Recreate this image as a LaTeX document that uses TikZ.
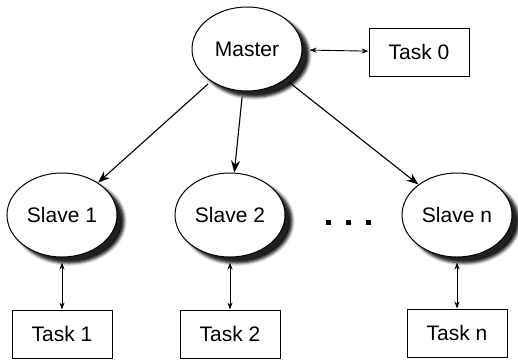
\documentclass[tikz,border=0pt]{standalone}
\usepackage{fontspec}
\setmainfont{Liberation Sans}
\usetikzlibrary{shapes.geometric,arrows.meta,shadows,shadows.blur}

\tikzset{
  nodo/.style={ellipse, draw, line width=1pt, fill=white, minimum width=110pt,
    minimum height=84pt, inner sep=0pt, font=\fontsize{21}{24}\selectfont,
    blur shadow={shadow xshift=7pt, shadow yshift=-6pt, shadow blur steps=5,
      shadow blur radius=3pt, shadow opacity=100},
    drop shadow={shadow xshift=4.5pt, shadow yshift=-4pt, fill=black!75}},
  compito/.style={draw, line width=0.9pt, minimum width=100pt, minimum height=48pt,
    inner sep=0pt, font=\fontsize{21}{24}\selectfont},
  freccia/.style={-{Stealth[length=12pt,width=9pt]}, line width=1.1pt},
  doppia/.style={{Stealth[length=7pt,width=5pt]}-{Stealth[length=7pt,width=5pt]}, line width=0.9pt},
}

\begin{document}
\begin{tikzpicture}[x=1pt,y=-1pt]
  \useasboundingbox (0,0) rectangle (518,360);

  % Master e task 0
  \node[nodo] (master) at (247,49) {Master};
  \node[compito] (task0) at (419,52) {Task 0};

  % Slave e task
  \node[nodo] (slave1) at (62,215) {Slave 1};
  \node[nodo] (slave2) at (230,215) {Slave 2};
  \node[nodo] (slaven) at (457,215) {Slave n};
  \node[compito] (task1) at (62,334) {Task 1};
  \node[compito] (task2) at (230,334) {Task 2};
  \node[compito] (taskn) at (457,333) {Task n};

  % Puntini
  \foreach \x in {328,348,368}
    \fill (\x-2.5,219.5) rectangle (\x+2.5,224.5);

  % Collegamenti
  \draw[freccia, shorten <=4pt] (master) -- (slave1);
  \draw[freccia, shorten <=6pt] (master) -- (slave2);
  \draw[freccia, shorten <=4pt] (master) -- (slaven);
  \draw[doppia, shorten <=7pt] (master) -- (task0);
  \foreach \i in {1,2,n}
    \draw[doppia, shorten <=5pt] (slave\i) -- (task\i);
\end{tikzpicture}
\end{document}
